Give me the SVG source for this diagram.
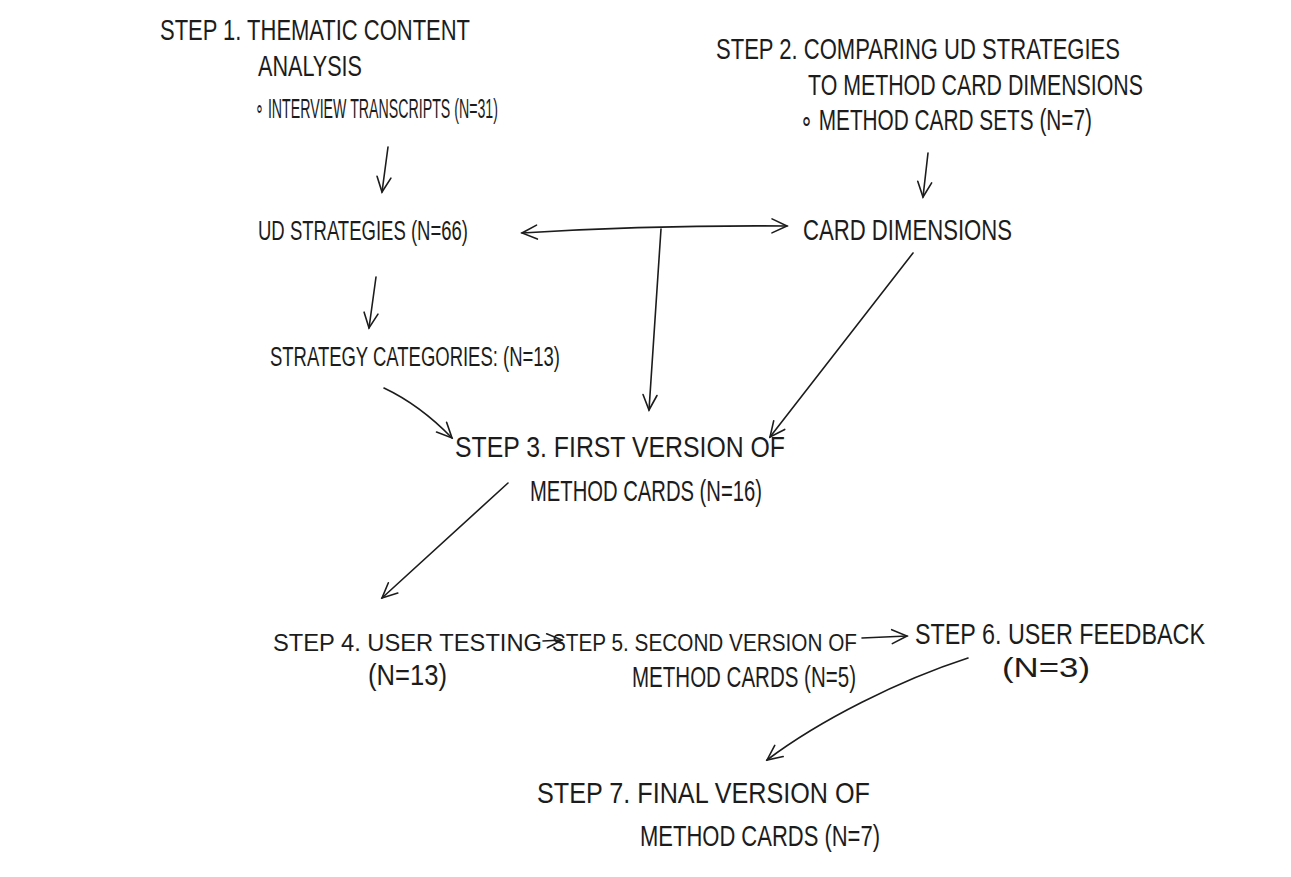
<svg xmlns="http://www.w3.org/2000/svg" width="1291" height="877" viewBox="0 0 1291 877">
<style>
.t{font-family:"Liberation Sans",Arial,sans-serif;font-size:29px;fill:#1c1c1c;font-weight:normal}
.s{font-size:27px}
.r{font-size:24px}
.c{fill:none;stroke:#1c1c1c;stroke-width:1.6;stroke-linecap:round}
</style>
<defs>
<marker id="ah" viewBox="-18 -10 20 20" markerWidth="20" markerHeight="20" refX="0" refY="0" orient="auto-start-reverse" markerUnits="userSpaceOnUse">
<path d="M-15,-7 L0,0 L-15,7" fill="none" stroke="#1c1c1c" stroke-width="1.6" stroke-linecap="round"/>
</marker>
</defs>
<rect width="1291" height="877" fill="#ffffff"/>
<g id="step1">
<text class="t" x="160" y="40" textLength="310" lengthAdjust="spacingAndGlyphs" style="font-size:30px">STEP 1. THEMATIC CONTENT</text>
<text class="t" x="258" y="76" textLength="104" lengthAdjust="spacingAndGlyphs">ANALYSIS</text>
<text class="t s" x="255" y="118" textLength="243" lengthAdjust="spacingAndGlyphs">∘ INTERVIEW TRANSCRIPTS (N=31)</text>
</g>
<g id="step2">
<text class="t" x="716" y="59" textLength="404" lengthAdjust="spacingAndGlyphs">STEP 2. COMPARING UD STRATEGIES</text>
<text class="t" x="808" y="95" textLength="335" lengthAdjust="spacingAndGlyphs">TO METHOD CARD DIMENSIONS</text>
<text class="t" x="800" y="130" textLength="292" lengthAdjust="spacingAndGlyphs">∘ METHOD CARD SETS (N=7)</text>
</g>
<g id="ud-strategies">
<text class="t s" x="258" y="240" textLength="210" lengthAdjust="spacingAndGlyphs">UD STRATEGIES (N=66)</text>
</g>
<g id="card-dimensions">
<text class="t" x="803" y="240" textLength="209" lengthAdjust="spacingAndGlyphs">CARD DIMENSIONS</text>
</g>
<g id="strategy-categories">
<text class="t s" x="270" y="366" textLength="290" lengthAdjust="spacingAndGlyphs">STRATEGY CATEGORIES: (N=13)</text>
</g>
<g id="step3">
<text class="t" x="455" y="457" textLength="330" lengthAdjust="spacingAndGlyphs">STEP 3. FIRST VERSION OF</text>
<text class="t" x="530" y="501" textLength="232" lengthAdjust="spacingAndGlyphs">METHOD CARDS (N=16)</text>
</g>
<g id="step4">
<text class="t r" x="273" y="651" textLength="269" lengthAdjust="spacingAndGlyphs">STEP 4. USER TESTING</text>
<text class="t" x="368" y="685" textLength="79" lengthAdjust="spacingAndGlyphs">(N=13)</text>
</g>
<g id="step5">
<text class="t r" x="552" y="651" textLength="305" lengthAdjust="spacingAndGlyphs">STEP 5. SECOND VERSION OF</text>
<text class="t" x="632" y="687" textLength="224" lengthAdjust="spacingAndGlyphs">METHOD CARDS (N=5)</text>
</g>
<g id="step6">
<text class="t" x="915" y="644" textLength="290" lengthAdjust="spacingAndGlyphs">STEP 6. USER FEEDBACK</text>
<text class="t s" x="1002" y="677" textLength="88" lengthAdjust="spacingAndGlyphs">(N=3)</text>
</g>
<g id="step7">
<text class="t" x="537" y="803" textLength="333" lengthAdjust="spacingAndGlyphs">STEP 7. FINAL VERSION OF</text>
<text class="t" x="640" y="846" textLength="240" lengthAdjust="spacingAndGlyphs">METHOD CARDS (N=7)</text>
</g>
<g id="connectors">
<path class="c" d="M388,147 L382,192" marker-end="url(#ah)"/>
<path class="c" d="M928,153 L923,197" marker-end="url(#ah)"/>
<path class="c" d="M522,233 Q650,225 787,226" marker-start="url(#ah)" marker-end="url(#ah)"/>
<path class="c" d="M661,229 Q655,320 649,410" marker-end="url(#ah)"/>
<path class="c" d="M376,277 L369,328" marker-end="url(#ah)"/>
<path class="c" d="M384,388 Q420,405 452,438" marker-end="url(#ah)"/>
<path class="c" d="M913,253 L770,437" marker-end="url(#ah)"/>
<path class="c" d="M508,483 L382,598" marker-end="url(#ah)"/>
<path class="c" d="M543,641 L562,640" marker-end="url(#ah)"/>
<path class="c" d="M862,638 L907,636" marker-end="url(#ah)"/>
<path class="c" d="M968,658 C900,680 820,720 767,760" marker-end="url(#ah)"/>
</g>
</svg>
